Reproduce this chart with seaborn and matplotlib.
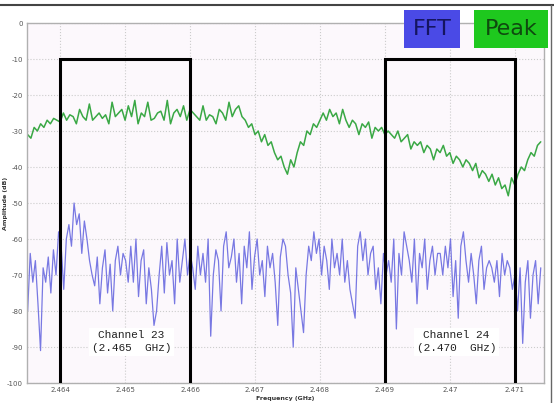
import numpy as np
import pandas as pd
import seaborn as sns
import matplotlib
matplotlib.use("Agg")
import matplotlib.pyplot as plt
from matplotlib.patches import Rectangle

# ---------------- data ----------------
peak_db = [
    # 2.4635 - 2.4640
    -31, -32, -29, -30, -28, -29, -27, -28, -26.5, -27, -27.5,
    # channel 23 span
    -25, -27, -25.5, -26, -28, -24, -26, -27, -22.5, -27, -26, -25, -26.5, -25.5, -28, -22,
    -26, -25, -24, -27, -23, -26, -21.5, -28, -25, -26, -22, -27, -26.5, -25, -24.5, -27,
    -21.5, -28, -25, -24, -26, -23, -27, -24,
    # 2.466 - 2.4668
    -25, -26, -27, -23, -27, -25.5, -26, -28, -24, -25, -27, -22, -26, -24, -23, -26,
    # dip
    -27, -29, -28, -31, -30, -33, -31, -34, -33, -36, -38, -37, -40, -42,
    -38, -40, -36, -33, -34, -30, -31, -28, -29, -27, -25, -27,
    # 2.468 - 2.469
    -24, -26, -25, -28, -24, -27, -29, -27, -28, -31, -28, -29, -27.5, -32, -29, -30, -29, -31,
    # channel 24 span, falling
    -30, -31, -32, -30, -33, -32, -31, -35, -33, -34, -33, -36, -34, -35, -38, -35, -36, -34,
    -37, -36, -39, -37, -38, -40, -38, -39, -41, -39, -43, -41, -42, -44, -42, -45, -43, -46,
    -45, -48,
    # recovery
    -43, -45, -42, -40, -41, -38, -36, -37, -34, -33,
]

fft_db = [
    -80, -64, -72, -66, -78, -91, -68, -72, -65, -75, -63, -70, -58, -62, -74, -60, -56, -62, -50, -56,
    -53, -64, -55, -60, -66, -70, -73, -65, -78, -68, -63, -75, -67, -80, -66, -62, -70, -64, -66, -72,
    -62, -72, -60, -76, -66, -63, -78, -68, -74, -84, -80, -70, -62, -75, -61, -70, -66, -78, -60, -72,
    -66, -60, -70, -64, -68, -74, -62, -70, -64, -72, -60, -87, -70, -63, -66, -80, -62, -58, -68, -65,
    -60, -72, -64, -78, -62, -68, -58, -74, -65, -60, -70, -66, -76, -62, -68, -64, -72, -84, -65, -60,
    -62, -70, -75, -90, -68, -74, -80, -86, -70, -62, -66, -58, -64, -60, -70, -62, -66, -74, -60, -68,
    -64, -70, -60, -72, -66, -74, -78, -82, -62, -58, -66, -60, -70, -64, -62, -74, -68, -78, -64, -70,
    -66, -72, -60, -85, -64, -70, -58, -62, -66, -72, -60, -78, -64, -68, -60, -74, -66, -62, -70, -64,
    -64, -70, -62, -68, -60, -76, -66, -82, -62, -58, -66, -72, -64, -70, -78, -66, -62, -74, -68, -66,
    -68, -72, -66, -76, -64, -70, -66, -68, -74, -70, -80, -68, -89, -72, -66, -82, -70, -66, -78, -68,
]

freq_start, freq_end = 2.4635, 2.4714
peak_freq = np.linspace(freq_start, freq_end, len(peak_db))
fft_freq = np.linspace(freq_start, freq_end, len(fft_db))

channel_names = ["Channel 23\n(2.465  GHz)", "Channel 24\n(2.470  GHz)"]
channel_center = [2.465, 2.470]
channel_lo = [2.464, 2.469]
channel_hi = [2.466, 2.471]
channel_top = -10

x_ticks = [2.464, 2.465, 2.466, 2.467, 2.468, 2.469, 2.470, 2.471]
x_ticklabels = ["2.464", "2.465", "2.466", "2.467", "2.468", "2.469", "2.47", "2.471"]
y_ticks = [0, -10, -20, -30, -40, -50, -60, -70, -80, -90, -100]

# ---------------- plot ----------------
sns.set_theme(style="white")
plt.rcParams['font.family'] = ['DejaVu Sans']

fig = plt.figure(figsize=(5.54, 4.03), dpi=100)
fig.patch.set_facecolor("white")
ax = fig.add_axes([27 / 554, 1 - 383 / 403, (544 - 27) / 554, (383 - 23) / 403])
ax.set_facecolor("#fcf8fc")

df_fft = pd.DataFrame({"freq": fft_freq, "db": fft_db})
df_peak = pd.DataFrame({"freq": peak_freq, "db": peak_db})

sns.lineplot(data=df_fft, x="freq", y="db", ax=ax, color="#6a6ae0", lw=0.9, alpha=0.9)
sns.lineplot(data=df_peak, x="freq", y="db", ax=ax, color="#3aa845", lw=1.1)

ax.set_xlim(2.46349, 2.47145)
ax.set_ylim(-100, 0)
ax.set_xticks(x_ticks)
ax.set_xticklabels(x_ticklabels)
ax.set_yticks(y_ticks)
ax.set_yticklabels([str(v) for v in y_ticks])
ax.tick_params(axis="both", labelsize=5, colors="#555555", length=0, pad=3)
ax.grid(True, linestyle=":", color="#cccccc", lw=0.8)
for s in ax.spines.values():
    s.set_color("#b0b0b0")
    s.set_linewidth(1.0)

ax.set_xlabel("Frequency (GHz)", fontsize=4.5, fontweight="bold", color="#333333", labelpad=2)
ax.set_ylabel("Amplitude (dB)", fontsize=4.5, fontweight="bold", color="#333333")
ax.yaxis.set_label_coords(-0.036, 0.5)

# channel boxes
for lo, hi, name, c in zip(channel_lo, channel_hi, channel_names, channel_center):
    ax.plot([lo, lo, hi, hi], [-100, channel_top, channel_top, -100], color="black", lw=2.2,
            solid_joinstyle="miter", zorder=5)
    ax.text(c + 0.0001, -88.5, name, family="Liberation Mono", fontsize=8, ha="center",
            va="center", color="#222222", linespacing=1.3, zorder=6,
            bbox=dict(facecolor="white", edgecolor="none", pad=2))

# legend boxes
fig.patches.append(Rectangle((404 / 554, 1 - 48 / 403), 56 / 554, 38 / 403,
                             transform=fig.transFigure, facecolor="#4a4ae6", edgecolor="none", zorder=10))
fig.patches.append(Rectangle((474 / 554, 1 - 48 / 403), 74 / 554, 38 / 403,
                             transform=fig.transFigure, facecolor="#1ec81e", edgecolor="none", zorder=10))
fig.text(432 / 554, 1 - 29 / 403, "FFT", fontsize=16, ha="center", va="center", color="#151560", zorder=11)
fig.text(511 / 554, 1 - 29 / 403, "Peak", fontsize=16, ha="center", va="center", color="#0f4a0f", zorder=11)

# top frame line of the screenshot
fig.add_artist(plt.Line2D([0, 1], [1 - 5 / 403, 1 - 5 / 403], transform=fig.transFigure,
                          color="#444444", lw=1.5))
fig.add_artist(plt.Line2D([551 / 554, 551 / 554], [0, 1 - 5 / 403], transform=fig.transFigure,
                          color="#666666", lw=1.0))

fig.savefig("out.png", dpi=100)
